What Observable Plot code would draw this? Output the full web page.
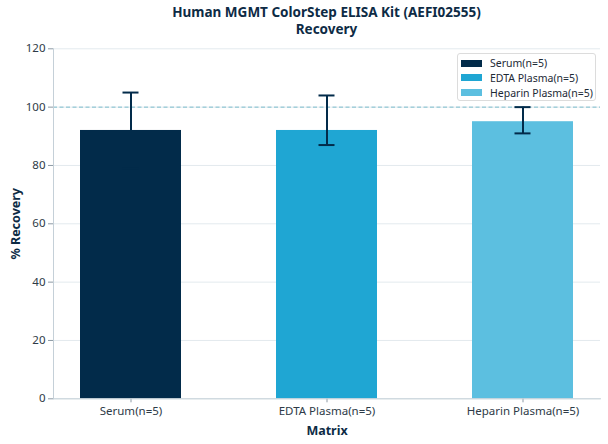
<!DOCTYPE html>
<html>
<head>
<meta charset="utf-8">
<script src="https://cdn.jsdelivr.net/npm/d3@7"></script>
<script src="https://cdn.jsdelivr.net/npm/@observablehq/plot@0.6"></script>
<style>
  html, body { margin: 0; padding: 0; background: #fff; }
  body { width: 608px; height: 444px; position: relative; font-family: "Noto Sans", sans-serif; overflow: hidden; }
  #title { position: absolute; left: 53px; width: 547px; top: 4px; text-align: center; font-weight: bold; font-size: 13.5px; line-height: 17px; color: #0d2b45; }
  #chart { position: absolute; left: 0; top: 40px; }
  #legend { position: absolute; left: 457px; top: 53px; width: 137px; height: 46px; border: 1px solid #dcdcdc; border-radius: 3px; background: rgba(255,255,255,0.85); font-size: 10.5px; color: #1d2a36; }
  #legend .row { position: absolute; left: 3px; height: 14px; display: flex; align-items: center; white-space: nowrap; }
  #legend .sw { width: 21px; height: 7px; margin-right: 8px; flex: none; }
  svg text { font-family: "Noto Sans", sans-serif; }
  g[aria-label="y-axis label"] text, g[aria-label="x-axis label"] text { font-weight: bold; font-size: 12.5px; fill: #0d2b45; }
</style>
</head>
<body>
<div id="title">Human MGMT ColorStep ELISA Kit (AEFI02555)<br>Recovery</div>
<div id="chart"></div>
<div id="legend"></div>
<script>
const categories = ["Serum(n=5)", "EDTA Plasma(n=5)", "Heparin Plasma(n=5)"];
const recovery = [92, 92, 95];
const errLow = [79, 87, 91];
const errHigh = [105, 104, 100];
const colors = ["#022b4a", "#1fa6d3", "#5cbfe0"];
const yTicks = [0, 20, 40, 60, 80, 100, 120];
const refLine = [100];

const data = categories.map((c, i) => ({cat: c, value: recovery[i], lo: errLow[i], hi: errHigh[i]}));
const errColor = "#022b4a";

const chart = Plot.plot({
  width: 608,
  height: 404,
  marginLeft: 53,
  marginRight: 8,
  marginTop: 8.3,
  marginBottom: 45.7,
  style: {fontFamily: "Noto Sans", fontSize: "11.5px", color: "#2e3b47", background: "#fff", overflow: "visible"},
  x: {domain: categories, paddingInner: 0.487, paddingOuter: 0.132, label: null},
  y: {domain: [0, 120], label: null},
  color: {domain: categories, range: colors},
  marks: [
    Plot.gridY(yTicks, {stroke: "#e3eaee", strokeOpacity: 1, strokeWidth: 1}),
    Plot.ruleY(refLine, {stroke: "#7cbccd", strokeWidth: 1, strokeDasharray: "4,2.5"}),
    Plot.barY(data, {x: "cat", y: "value", fill: "cat"}),
    Plot.ruleX(data, {x: "cat", y1: "lo", y2: "hi", stroke: errColor, strokeWidth: 2}),
    Plot.tickY(data, {x: "cat", y: "lo", stroke: errColor, strokeWidth: 2, insetLeft: 42.5, insetRight: 42.5}),
    Plot.tickY(data, {x: "cat", y: "hi", stroke: errColor, strokeWidth: 2, insetLeft: 42.5, insetRight: 42.5}),
    Plot.axisY({ticks: yTicks, tickSize: 5, tickPadding: 3, stroke: "#8d9aa5", label: "% Recovery", labelAnchor: "center", labelArrow: "none", labelOffset: 42}),
    Plot.axisX({tickSize: 4, tickPadding: 4, stroke: "#8d9aa5", label: "Matrix", labelAnchor: "center", labelArrow: "none", labelOffset: 36}),
    Plot.frame({anchor: "left", stroke: "#c5d0d8"}),
    Plot.frame({anchor: "bottom", stroke: "#c5d0d8"})
  ]
});
document.getElementById("chart").appendChild(chart);

const legend = document.getElementById("legend");
categories.forEach((c, i) => {
  const row = document.createElement("div");
  row.className = "row";
  row.style.top = (2 + i * 14.8) + "px";
  const sw = document.createElement("div");
  sw.className = "sw";
  sw.style.background = colors[i];
  const t = document.createElement("span");
  t.textContent = c;
  row.appendChild(sw);
  row.appendChild(t);
  legend.appendChild(row);
});
</script>
</body>
</html>
